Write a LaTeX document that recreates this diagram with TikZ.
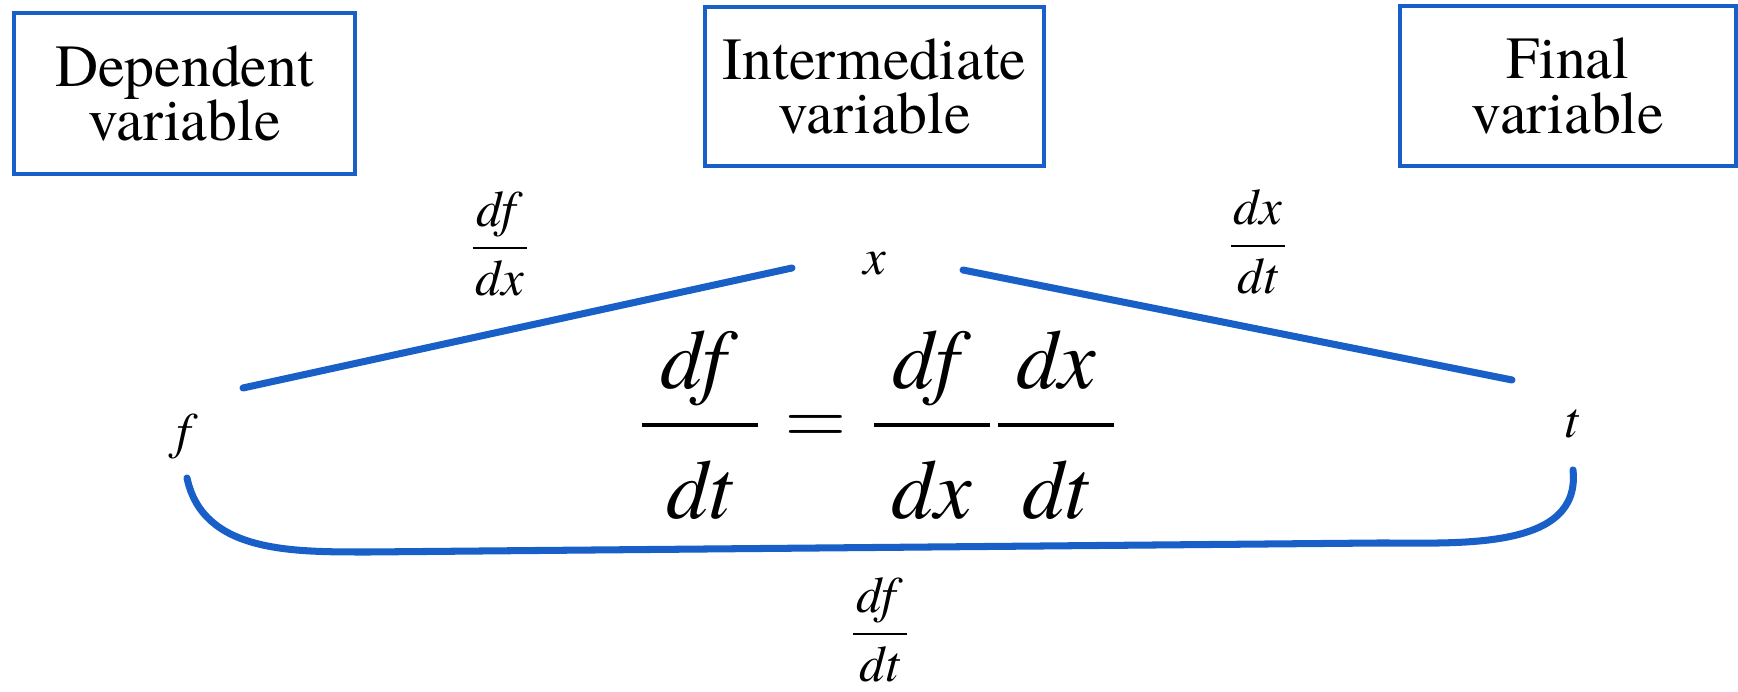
\RequirePackage{fix-cm}
\documentclass[tikz,border=0pt]{standalone}
\usepackage{amsmath}
\usepackage{fontspec}
\setmainfont{texgyretermes}[Extension=.otf, UprightFont=*-regular, ItalicFont=*-italic, BoldFont=*-bold, BoldItalicFont=*-bolditalic]
\definecolor{chainblue}{RGB}{25,95,200}
\newlength\fracw
\newcommand\fr[2]{\displaystyle\frac{\makebox[\fracw]{\textit{#1}}}{\makebox[\fracw]{\strut\textit{#2}}}}

\begin{document}
\begin{tikzpicture}[x=0.01cm, y=-0.01cm,
  varbox/.style={draw=chainblue, line width=1pt, inner sep=0pt, align=center, font=\fontsize{17}{15.5}\selectfont},
  link/.style={draw=chainblue, line width=2pt, line cap=round},
  lbl/.style={inner sep=0pt, anchor=base, font={\fontsize{14.5}{16}\selectfont\setlength\fracw{0.54cm}}}]
\useasboundingbox (0,0) rectangle (1738,692);
\node[varbox, minimum width=3.41cm, minimum height=1.61cm] (dep) at (184.5,93.5) {Dependent\\variable};
\node[varbox, minimum width=3.39cm, minimum height=1.59cm] (mid) at (874.5,86.5) {Intermediate\\variable};
\node[varbox, minimum width=3.36cm, minimum height=1.60cm] (fin) at (1568,86) {Final\\variable};
\node[lbl] (f) at (187,449) {\textit{f}};
\node[lbl] (x) at (875,275) {\textit{x}};
\node[lbl] (t) at (1572,438) {\textit{t}};
\node[lbl] (dfdx) at (500,261) {$\fr{df}{dx}$};
\node[lbl] (dxdt) at (1258,259) {$\fr{dx}{dt}$};
\node[lbl] (dfdt) at (880,647) {$\fr{df}{dt}$};
\node[lbl, font={\fontsize{24}{33}\selectfont\setlength\fracw{1.16cm}}] (eq) at (878,446)
  {$\fr{df}{dt}=\fr{df}{dx}\fr{dx}{dt}$};
\draw[link] ([shift={(56,-61)}]f.base) -- ([shift={(-83,-7)}]x.base);
\draw[link] ([shift={(88,-5)}]x.base) -- ([shift={(-60,-58)}]t.base);
\draw[link] ([shift={(0,29)}]f.base) to[out=-78, in=180] (370,552) -- (1380,543)
  to[out=0, in=-84] ([shift={(1,32)}]t.base);
\end{tikzpicture}
\end{document}
